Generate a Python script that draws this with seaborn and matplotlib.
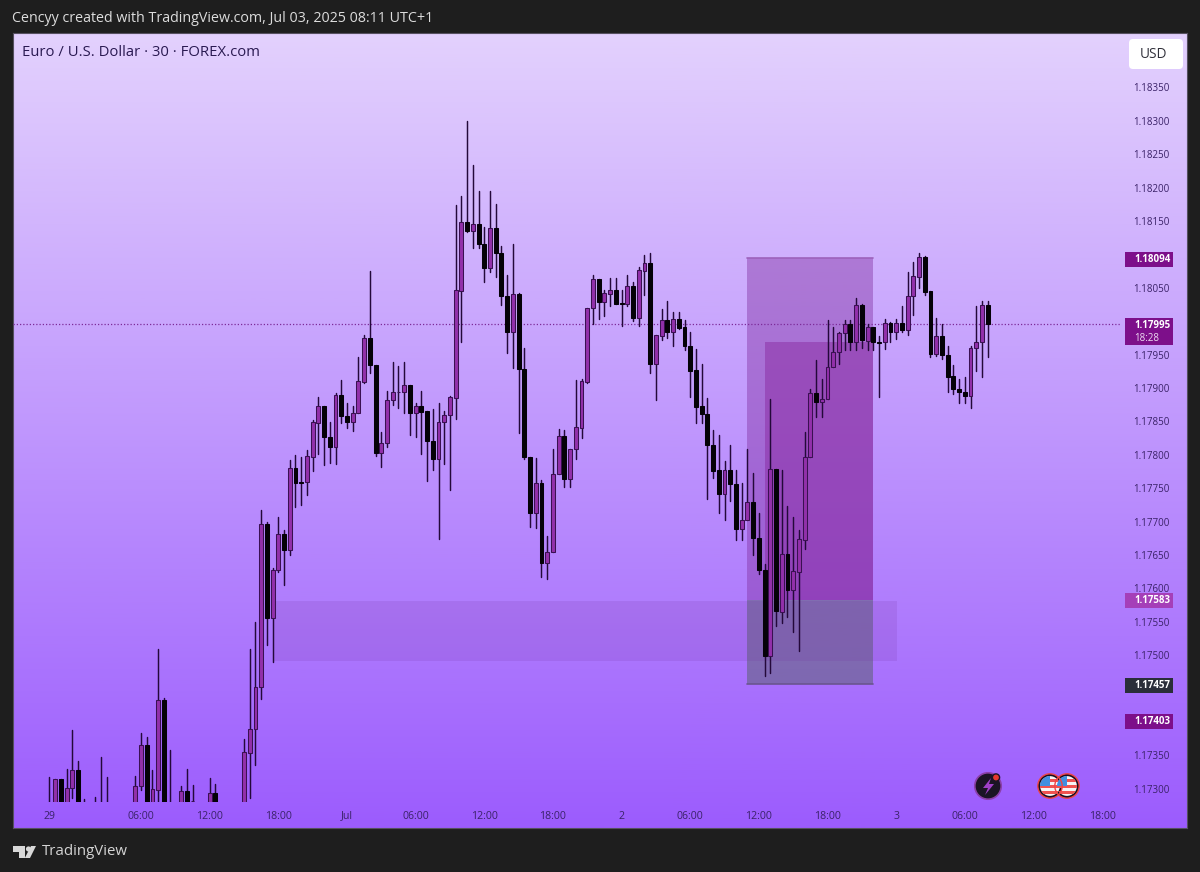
import numpy as np
import pandas as pd
import matplotlib
matplotlib.use("Agg")
import matplotlib.pyplot as plt
from matplotlib.colors import LinearSegmentedColormap
from matplotlib.patches import Rectangle, Circle, Polygon, FancyBboxPatch
import seaborn as sns

# ---- data: 30-minute EUR/USD candles, prices in 1e-5 units ----
opens = [
117260,117250,117315,117260,117301,117328,117270,117265,117255,117265,
117250,117255,117245,117250,117260,117265,117304,117365,117270,117298,
117433,117270,117260,117260,117296,117281,117270,117260,117265,117293,
117265,117255,117250,117245,117260,117354,117389,117452,117697,117555,
117627,117681,117657,117780,117759,117759,117797,117848,117873,117827,
117811,117890,117858,117849,117863,117909,117974,117935,117802,117817,
117882,117894,117894,117904,117862,117873,117865,117821,117794,117849,
117859,117885,118045,118149,118135,118146,118116,118080,118139,118102,
118037,117983,118040,117928,117796,117712,117758,117638,117654,117771,
117828,117763,117809,117840,117909,118019,118063,118029,118041,118046,
118027,118025,118053,118004,118075,118087,117936,117978,118001,117984,
118003,117991,117963,117927,117873,117861,117815,117777,117741,117777,
117756,117689,117702,117729,117676,117628,117498,117778,117565,117652,
117598,117625,117673,117796,117893,117879,117883,117931,117954,117982,
117995,117969,118024,117970,117991,117968,117968,117997,117984,117997,
117987,118037,118066,118096,118045,117951,117978,117950,117918,117899,
117894,117888,117959,117968,118024]
closes = [
117270,117315,117260,117301,117328,117260,117265,117255,117250,117270,
117255,117245,117250,117260,117265,117304,117365,117270,117299,117433,
117270,117260,117255,117296,117265,117282,117260,117265,117293,117265,
117255,117250,117245,117260,117355,117389,117453,117697,117555,117627,
117681,117657,117780,117758,117758,117798,117849,117873,117827,117811,
117890,117858,117849,117863,117911,117974,117934,117802,117817,117882,
117894,117894,117904,117862,117873,117864,117820,117794,117849,117859,
117887,118047,118149,118135,118146,118116,118080,118139,118102,118037,
117983,118040,117928,117796,117712,117758,117638,117655,117771,117828,
117763,117809,117841,117911,118019,118063,118029,118042,118046,118026,
118026,118053,118004,118077,118087,117936,117979,118001,117984,118003,
117990,117962,117926,117872,117861,117814,117776,117741,117777,117756,
117689,117703,117729,117676,117627,117498,117778,117566,117652,117598,
117626,117674,117796,117893,117879,117884,117931,117954,117982,117995,
117969,118024,117971,117991,117968,117967,117997,117984,117997,117987,
118038,118067,118096,118044,117951,117978,117949,117917,117898,117894,
117888,117960,117968,118024,117995]
highs = [
117318,117315,117315,117329,117388,117341,117285,117270,117288,117347,
117318,117270,117265,117270,117275,117319,117383,117377,117328,117509,
117436,117358,117275,117304,117329,117305,117275,117275,117316,117307,
117275,117270,117265,117265,117375,117509,117549,117717,117700,117631,
117707,117687,117792,117799,117797,117807,117852,117886,117873,117849,
117892,117912,117877,117873,117947,117979,118075,117935,117834,117896,
117939,117933,117939,117904,117878,117896,117865,117868,117878,117866,
117888,118174,118187,118300,118234,118195,118141,118195,118175,118112,
118069,118116,118042,117959,117796,117795,117762,117678,117808,117838,
117837,117809,117912,117914,118020,118069,118063,118046,118065,118064,
118046,118069,118059,118081,118099,118102,117979,118018,118030,118013,
118014,118002,117983,117958,117936,117885,117837,117830,117791,117815,
117777,117757,117809,117772,117713,117637,117883,117778,117777,117723,
117707,117688,117834,117899,117942,117914,118002,117991,117984,118002,
118002,118034,118025,117996,117991,117977,118003,117999,118003,118023,
118073,118088,118102,118097,118045,118004,117995,117962,117934,117913,
117916,117962,118022,118030,118030]
lows = [
117240,117240,117250,117250,117286,117250,117250,117240,117240,117240,
117230,117230,117225,117235,117240,117255,117298,117260,117260,117275,
117260,117250,117240,117250,117260,117270,117245,117245,117255,117260,
117250,117240,117235,117230,117250,117286,117335,117435,117515,117489,
117625,117605,117650,117722,117725,117740,117775,117801,117785,117787,
117786,117847,117840,117836,117863,117908,117922,117798,117781,117811,
117874,117870,117862,117830,117827,117801,117760,117777,117674,117786,
117747,117854,117969,118134,118110,118109,118058,118074,118066,118024,
117952,117930,117833,117793,117692,117691,117617,117614,117654,117771,
117752,117751,117793,117825,117908,117996,118003,118008,118023,118026,
117993,118022,118000,117993,118039,117923,117882,117971,117975,117962,
117988,117956,117886,117847,117847,117733,117765,117713,117702,117730,
117673,117673,117702,117650,117622,117468,117473,117544,117548,117557,
117535,117506,117659,117796,117857,117857,117883,117931,117936,117956,
117957,117957,117959,117956,117957,117887,117958,117969,117973,117983,
117979,118009,118049,118039,117946,117948,117944,117894,117891,117877,
117878,117870,117926,117916,117946]

price_ticks = [117300, 117350, 117500, 117550, 117600, 117650, 117700, 117750, 117800,
               117850, 117900, 117950, 118050, 118150, 118200, 118250, 118300, 118350]
time_positions = [0, 16, 28, 40, 52, 64, 76, 88, 100, 112, 124, 136, 148, 160, 172, 184]
time_labels = ["29", "06:00", "12:00", "18:00", "Jul", "06:00", "12:00", "18:00",
               "2", "06:00", "12:00", "18:00", "3", "06:00", "12:00", "18:00"]
last_price = 117995
position_top, position_entry, position_bottom = 118094, 117583, 117457
inner_top = 117969
zone_top, zone_bottom = 117581, 117491
price_tags = [("1.18094", 259, "#7d0f8a"), ("1.17583", 600.5, "#a53fb8"),
              ("1.17457", 685, "#2a2e39"), ("1.17403", 721, "#7d0f8a")]

# ---- style ----
sns.set_theme(style="white")
plt.rcParams["font.family"] = ["Open Sans", "DejaVu Sans"]
W, H = 1200, 872
UP, DOWN, WICK, EDGE = "#9230aa", "#050208", "#24093a", "#3a1052"
AXTXT = "#3a2268"

fig = plt.figure(figsize=(W / 100, H / 100), dpi=100, facecolor="#1e1e1e")

def px_axes(l, t, r, b, **kw):
    return fig.add_axes([l / W, 1 - b / H, (r - l) / W, (b - t) / H], **kw)

# gradient panel
bg = px_axes(13, 33, 1187, 828)
cmap = LinearSegmentedColormap.from_list("panel", ["#e3d1fd", "#9c5cfd"])
bg.imshow(np.linspace(0, 1, 400)[:, None], aspect="auto", cmap=cmap, vmin=0, vmax=1)
bg.set_xticks([]); bg.set_yticks([])
for s in bg.spines.values():
    s.set_color("#55505f"); s.set_linewidth(0.8)

# price pane
ax = px_axes(13, 33, 1121, 802, zorder=2)
ax.patch.set_alpha(0)

df = pd.DataFrame({"bar": np.arange(len(opens)), "open": opens, "high": highs,
                   "low": lows, "close": closes})
for c in ["open", "high", "low", "close"]:
    df[c] = df[c] / 1e5
df["bottom"] = df[["open", "close"]].min(axis=1)
df["height"] = (df["close"] - df["open"]).abs()

wicks = df.melt(id_vars="bar", value_vars=["high", "low"], value_name="price")
sns.lineplot(data=wicks, x="bar", y="price", units="bar", estimator=None, sort=False,
             color=WICK, linewidth=1.05, ax=ax, zorder=2, legend=False)

for subset, colour in ((df[df["close"] >= df["open"]], UP), (df[df["close"] < df["open"]], DOWN)):
    subset = subset.sort_values("bar")
    sns.barplot(data=subset, x="bar", y="height", bottom=subset["bottom"].values, native_scale=True,
                width=0.68, color=colour, saturation=1, edgecolor=EDGE if colour == UP else DOWN,
                linewidth=0.75, errorbar=None, ax=ax, zorder=3)

ax.set_xlim(-6.38, 187.3)
ax.set_ylim(117280.1 / 1e5, 118431.3 / 1e5)

# long-position tool and zone
bar_left, bar_inner, bar_right = 121.9, 125.1, 144.0
zone_left, zone_right = 39.1, 148.2
ax.add_patch(Rectangle((bar_left, position_entry / 1e5), bar_right - bar_left,
                       (position_top - position_entry) / 1e5, fc=(0.50, 0.18, 0.62, 0.42),
                       ec="none", zorder=1))
ax.plot([bar_left, bar_right], [position_top / 1e5] * 2, color="#9d62bb", lw=1.2, zorder=1)
ax.add_patch(Rectangle((bar_inner, position_entry / 1e5), bar_right - bar_inner,
                       (inner_top - position_entry) / 1e5, fc=(0.52, 0.12, 0.60, 0.42),
                       ec="none", zorder=1))
ax.add_patch(Rectangle((bar_left, position_bottom / 1e5), bar_right - bar_left,
                       (position_entry - position_bottom) / 1e5, fc=(0.36, 0.38, 0.45, 0.55),
                       ec="none", zorder=1))
ax.plot([bar_left, bar_right], [position_bottom / 1e5] * 2, color="#6a5590", lw=1.2, zorder=1)
ax.add_patch(Rectangle((zone_left, zone_bottom / 1e5), zone_right - zone_left,
                       (zone_top - zone_bottom) / 1e5, fc=(0.45, 0.18, 0.62, 0.15),
                       ec="none", zorder=1))
ax.axhline(last_price / 1e5, color="#7d2a98", lw=0.9, ls=(0, (1, 1.6)), zorder=1.5)

# axes
ax.yaxis.tick_right()
ax.set_yticks([p / 1e5 for p in price_ticks])
ax.set_yticklabels([f"{p / 1e5:.5f}" for p in price_ticks], fontsize=7.0, color=AXTXT, ha="left")
ax.set_xticks(time_positions)
ax.set_xticklabels(time_labels, fontsize=7.6, color=AXTXT)
ax.tick_params(axis="y", length=0, pad=9.0)
ax.tick_params(axis="x", length=0, pad=6.2)
ax.set_xlabel(""); ax.set_ylabel("")
for s in ax.spines.values():
    s.set_visible(False)

# overlay in pixel units for chrome
ov = px_axes(0, 0, W, H, zorder=5)
ov.set_xlim(0, W); ov.set_ylim(H, 0); ov.axis("off"); ov.patch.set_alpha(0)
ov.text(12, 19, "Cencyy created with TradingView.com, Jul 03, 2025 08:11 UTC+1",
        fontsize=10.3, color="#dcdcdc", va="center")
ov.text(22, 52, "Euro / U.S. Dollar · 30 · FOREX.com", fontsize=10.7, color="#2a1a52", va="center")
ov.add_patch(FancyBboxPatch((1131, 41), 50, 26, boxstyle="round,pad=2,rounding_size=4",
                            fc="white", ec="none"))
ov.text(1153.5, 54, "USD", fontsize=9.8, color="#30303a", va="center", ha="center")

for label, y, colour in price_tags:
    ov.add_patch(Rectangle((1125, y - 7.5), 47.5, 15, fc=colour, ec="none"))
    ov.text(1134, y, label, fontsize=7.0, color="white", fontweight="bold", va="center")
ov.add_patch(Rectangle((1125, 318), 47.5, 27, fc="#7d0f8a", ec="none"))
ov.text(1134, 325.5, "1.17995", fontsize=7.0, color="white", fontweight="bold", va="center")
ov.text(1134, 338, "18:28", fontsize=7.0, color="#eedcf2", va="center")

# event icons
ov.add_patch(Circle((988, 786), 13.2, fc="#1b1425", ec="#8a3fa8", lw=1.2))
ov.add_patch(Polygon([(991, 778), (983, 788), (988, 788), (985, 795), (994, 784), (989, 784)],
                     fc="#a040c8", ec="none"))
ov.add_patch(Circle((996, 777.5), 3.6, fc="#e6382f", ec="#1b1425", lw=1))
for cx in (1067, 1050):
    ov.add_patch(Circle((cx, 786), 11, fc="#f5f5f5", ec="#1b1020", lw=1.6, zorder=3))
    flag = Circle((cx, 786), 10, transform=ov.transData)
    for k in range(3):
        st = ov.add_patch(Rectangle((cx - 11, 779 + 6 * k), 22, 3.2, fc="#ef5350", ec="none", zorder=3.1))
        st.set_clip_path(flag)
    blue = ov.add_patch(Rectangle((cx - 11, 775), 11, 11, fc="#3f8fe0", ec="none", zorder=3.2))
    blue.set_clip_path(flag)
    ov.add_patch(Circle((cx, 786), 12.2, fc="none", ec="#ef4444", lw=1.0, zorder=3.3))

# TradingView logo
LOGO = "#d8d8d8"
ov.add_patch(Polygon([(13, 846), (25, 846), (25, 858), (19, 858), (19, 852), (13, 852)], fc=LOGO, ec="none"))
ov.add_patch(Circle((28.5, 849), 2.6, fc=LOGO, ec="none"))
ov.add_patch(Polygon([(31, 846), (36, 846), (30, 858), (24.8, 858)], fc=LOGO, ec="none"))
ov.text(41.5, 851.5, "TradingView", fontsize=10.8, color="#d4d4d4", va="center")

fig.savefig("out.png", dpi=100, facecolor=fig.get_facecolor())
